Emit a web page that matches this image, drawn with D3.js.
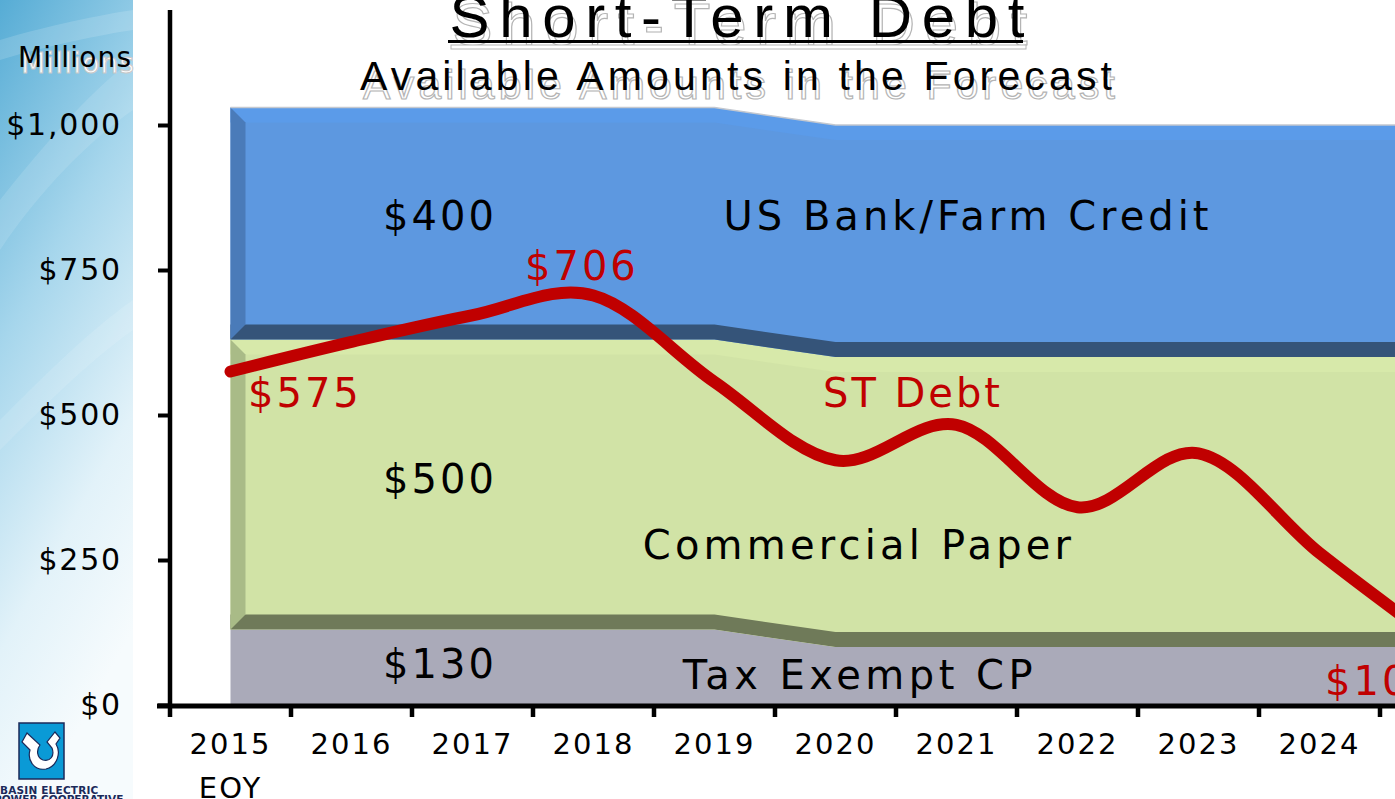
<!DOCTYPE html>
<html>
<head>
<meta charset="utf-8">
<script src="https://cdn.jsdelivr.net/npm/d3@7"></script>
<style>
  body { margin: 0; background: #fff; overflow: hidden; }
  svg { display: block; }
  text { font-family: "DejaVu Sans", sans-serif; }
</style>
</head>
<body>
<svg id="chart" width="1395" height="799"></svg>
<script>
// values ($ millions)
const years = ["2015", "2016", "2017", "2018", "2019", "2020", "2021", "2022", "2023", "2024", "2025"];
const yearLabels = ["2015", "2016", "2017", "2018", "2019", "2020", "2021", "2022", "2023", "2024", "2025"];
const taxExempt = [130, 130, 130, 130, 130, 100, 100, 100, 100, 100, 100];
const commercialPaper = [500, 500, 500, 500, 500, 500, 500, 500, 500, 500, 500];
const bankCredit = [400, 400, 400, 400, 400, 400, 400, 400, 400, 400, 400];
const stDebt = [575, 626, 672, 706, 557, 422, 483, 341, 434, 262, 105];
const yTicks = [0, 250, 500, 750, 1000];

const svg = d3.select("#chart");

// left decorative panel
const defs = svg.append("defs");
const grad = defs.append("linearGradient").attr("id", "panel")
  .attr("x1", 0).attr("y1", 0).attr("x2", 0.3).attr("y2", 1);
grad.append("stop").attr("offset", "0%").attr("stop-color", "#56acd5");
grad.append("stop").attr("offset", "40%").attr("stop-color", "#a6d6ec");
grad.append("stop").attr("offset", "75%").attr("stop-color", "#e2f2f9");
grad.append("stop").attr("offset", "100%").attr("stop-color", "#f6fbfd");
svg.append("rect").attr("x", 0).attr("y", 0).attr("width", 133).attr("height", 799)
  .attr("fill", "url(#panel)");
svg.append("path").attr("d", "M0,200 C40,150 90,90 133,60 L133,110 C90,140 40,190 0,250 Z")
  .attr("fill", "#fff").attr("opacity", 0.12);
svg.append("path").attr("d", "M0,40 C50,25 100,15 133,10 L133,30 C100,35 50,45 0,60 Z")
  .attr("fill", "#fff").attr("opacity", 0.15);
svg.append("path").attr("d", "M0,420 C40,380 90,330 133,300 L133,330 C90,360 40,410 0,450 Z")
  .attr("fill", "#fff").attr("opacity", 0.12);

// scales
const x = d3.scaleBand().domain(years).range([170, 170 + 121 * years.length]).padding(0);
const y = d3.scaleLinear().domain([0, 1000]).range([705, 125]);
const cx = d => x(d) + x.bandwidth() / 2;

// stacked series
const rows = years.map((yr, i) => ({
  year: yr, tax: taxExempt[i], cp: commercialPaper[i], bank: bankCredit[i]
}));
const series = d3.stack().keys(["tax", "cp", "bank"])(rows);

const styles = {
  tax:  { face: "#aaaab9", light: null, left: null, bottom: null },
  cp:   { face: "#d1e3a6", light: "#d7e9aa", left: "#a9bb87", bottom: "#6f7a59" },
  bank: { face: "#5d98e0", light: "#5b9be9", left: "#4a7bb9", bottom: "#355479" }
};
const bev = 15;
const gArea = svg.append("g");

series.forEach(s => {
  const st = styles[s.key];
  const face = d3.area().x(d => cx(d.data.year)).y0(d => y(d[0])).y1(d => y(d[1]));
  gArea.append("path").datum(s).attr("d", face).attr("fill", st.face);
  if (st.light) {
    const top = d3.area().x(d => cx(d.data.year)).y0(d => y(d[1]) + bev).y1(d => y(d[1]));
    gArea.append("path").datum(s).attr("d", top).attr("fill", st.light);
  }
  if (st.bottom) {
    const bot = d3.area().x(d => cx(d.data.year)).y0(d => y(d[0])).y1(d => y(d[0]) - bev);
    gArea.append("path").datum(s).attr("d", bot).attr("fill", st.bottom);
  }
  if (st.left) {
    const d0 = s[0], x0 = cx(d0.data.year);
    const yt = y(d0[1]), yb = y(d0[0]);
    gArea.append("path")
      .attr("d", `M${x0},${yt}L${x0 + bev},${yt + bev}L${x0 + bev},${yb - bev}L${x0},${yb}Z`)
      .attr("fill", st.left);
  }
  if (s.key === "bank") {
    const edge = d3.line().x(d => cx(d.data.year)).y(d => y(d[1]));
    gArea.append("path").datum(s).attr("d", edge)
      .attr("fill", "none").attr("stroke", "#c4c8cf").attr("stroke-width", 1.5);
  }
});

// area labels
const lab = svg.append("g").attr("font-size", 40).attr("letter-spacing", 3).attr("fill", "#000");
lab.append("text").attr("x", 440).attr("y", 230).attr("text-anchor", "middle").text("$" + bankCredit[0]);
lab.append("text").attr("x", 968).attr("y", 230).attr("text-anchor", "middle")
  .attr("letter-spacing", 4).text("US Bank/Farm Credit");
lab.append("text").attr("x", 440).attr("y", 493).attr("text-anchor", "middle").text("$" + commercialPaper[0]);
lab.append("text").attr("x", 859).attr("y", 559).attr("text-anchor", "middle")
  .attr("letter-spacing", 4.2).text("Commercial Paper");
lab.append("text").attr("x", 440).attr("y", 678).attr("text-anchor", "middle").text("$" + taxExempt[0]);
lab.append("text").attr("x", 860).attr("y", 689).attr("text-anchor", "middle")
  .attr("letter-spacing", 4.5).text("Tax Exempt CP");

// ST debt line
const debtLine = d3.line().x((d, i) => cx(years[i])).y(d => y(d)).curve(d3.curveCardinal.tension(0));
svg.append("path").datum(stDebt).attr("d", debtLine)
  .attr("fill", "none").attr("stroke", "#c00000").attr("stroke-width", 12)
  .attr("stroke-linecap", "round").attr("stroke-linejoin", "round");

const red = svg.append("g").attr("font-size", 40).attr("letter-spacing", 3).attr("fill", "#c00000");
red.append("text").attr("x", 248).attr("y", 407).text("$" + stDebt[0]);
red.append("text").attr("x", 525).attr("y", 280).text("$" + stDebt[3]);
red.append("text").attr("x", 823).attr("y", 407).text("ST Debt");
red.append("text").attr("x", 1325).attr("y", 695).text("$" + stDebt[10]);

// y axis
const yAxis = svg.append("g").attr("transform", "translate(170,0)")
  .call(d3.axisLeft(y).tickValues(yTicks).tickSize(12).tickPadding(36)
    .tickFormat(d => "$" + d3.format(",")(d)));
yAxis.select(".domain").remove();
yAxis.selectAll(".tick line").attr("stroke", "#000").attr("stroke-width", 4);
yAxis.selectAll(".tick text").attr("font-size", 30).attr("letter-spacing", 1.8)
  .attr("fill", "#000").style("font-family", "DejaVu Sans, sans-serif");
svg.append("line").attr("x1", 170).attr("x2", 170).attr("y1", 10).attr("y2", 717)
  .attr("stroke", "#000").attr("stroke-width", 4.5);

// x axis
svg.append("line").attr("x1", 157).attr("x2", 1395).attr("y1", 706).attr("y2", 706)
  .attr("stroke", "#000").attr("stroke-width", 5);
svg.append("g").selectAll("line").data(years.slice(1).concat(["end"])).join("line")
  .attr("x1", d => d === "end" ? x.range()[1] : x(d))
  .attr("x2", d => d === "end" ? x.range()[1] : x(d))
  .attr("y1", 706).attr("y2", 717)
  .attr("stroke", "#000").attr("stroke-width", 4.5);
const xl = svg.append("g").attr("font-size", 29).attr("letter-spacing", 2).attr("fill", "#000")
  .attr("text-anchor", "middle");
xl.selectAll("text.yr").data(yearLabels).join("text").attr("class", "yr")
  .attr("x", (d, i) => cx(years[i])).attr("y", 754).text(d => d);
xl.append("text").attr("x", cx(years[0])).attr("y", 798).text("EOY");

// Millions
svg.append("text").attr("x", 21).attr("y", 73).attr("font-size", 28).attr("letter-spacing", 1.2)
  .attr("fill", "#fff").attr("stroke", "#c8c8c8").attr("stroke-width", 1).text("Millions");
svg.append("text").attr("x", 18).attr("y", 67).attr("font-size", 28).attr("letter-spacing", 1.2)
  .attr("fill", "#000").text("Millions");

// titles with outlined shadow
const titleFont = "'Liberation Sans Narrow', 'Liberation Sans', Arial, sans-serif";
function shadowText(txt, xc, yb, size, len, dy) {
  svg.append("text").attr("x", xc + 3).attr("y", yb + dy).attr("text-anchor", "middle")
    .style("font-family", titleFont).attr("font-size", size)
    .attr("textLength", len).attr("lengthAdjust", "spacing")
    .attr("fill", "#fff").attr("stroke", "#b4b4b4").attr("stroke-width", 1.2).text(txt);
  svg.append("text").attr("x", xc).attr("y", yb).attr("text-anchor", "middle")
    .style("font-family", titleFont).attr("font-size", size)
    .attr("textLength", len).attr("lengthAdjust", "spacing")
    .attr("fill", "#000").text(txt);
}
shadowText("Short-Term Debt", 737, 37, 60, 575, 8);
svg.append("rect").attr("x", 451).attr("y", 45).attr("width", 575).attr("height", 4)
  .attr("fill", "#fff").attr("stroke", "#b4b4b4").attr("stroke-width", 1);
svg.append("rect").attr("x", 448).attr("y", 40).attr("width", 575).attr("height", 3).attr("fill", "#000");
shadowText("Available Amounts in the Forecast", 736, 90, 41, 752, 9);

// logo
const logo = svg.append("g");
logo.append("rect").attr("x", 19).attr("y", 723).attr("width", 45).attr("height", 56)
  .attr("fill", "#0a9ad6").attr("stroke", "#1b2a5a").attr("stroke-width", 1.5);
logo.append("path")
  .attr("d", "M27,733 L40,745 C36,750 37,758 43,760 C50,762 55,756 52,748 L47,742 L55,732 L60,738 L56,744 C61,752 58,766 46,769 C34,771 27,760 30,750 L22,742 Z")
  .attr("fill", "#fff").attr("stroke", "#1b2a5a").attr("stroke-width", 1.2);
logo.append("text").attr("x", 0).attr("y", 794).attr("font-size", 10.5).attr("font-weight", "bold")
  .attr("fill", "#1b2a5a").attr("letter-spacing", 0.2).text("BASIN ELECTRIC");
logo.append("text").attr("x", -6).attr("y", 803).attr("font-size", 10.5).attr("font-weight", "bold")
  .attr("fill", "#1b2a5a").text("POWER COOPERATIVE");
</script>
</body>
</html>
